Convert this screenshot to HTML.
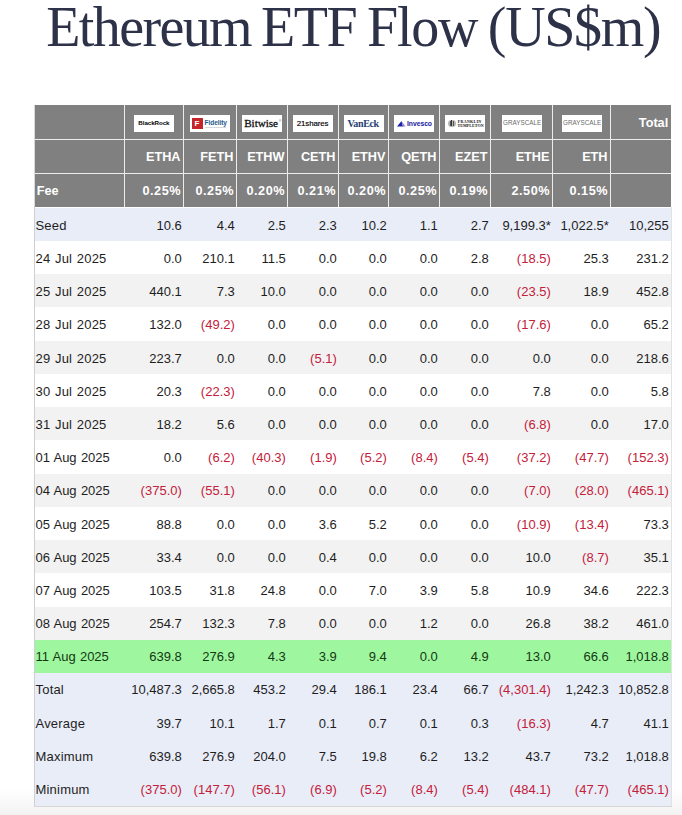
<!DOCTYPE html><html><head><meta charset="utf-8"><style>
html,body{margin:0;padding:0;background:#fff;}
body{width:682px;height:815px;overflow:hidden;position:relative;font-family:"Liberation Sans",sans-serif;}
.t{position:absolute;white-space:nowrap;line-height:1;}
.r{position:absolute;}
.c{position:absolute;white-space:nowrap;text-align:right;line-height:20px;height:20px;font-size:13px;color:#1e1e1e;}
.neg{color:#c4203a;}
.h{position:absolute;white-space:nowrap;text-align:right;line-height:20px;height:20px;font-size:12.7px;font-weight:bold;color:#fff;}
.logo{position:absolute;background:#fff;width:40px;height:17px;overflow:hidden;}
</style></head><body>
<div class="t" style="left:46.20px;top:-1.00px;font-family:'Liberation Serif',serif;font-size:56px;line-height:56px;height:56px;color:#2d3249;letter-spacing:-1.600px">Ethereum</div>
<div class="t" style="left:260.90px;top:-1.00px;font-family:'Liberation Serif',serif;font-size:56px;line-height:56px;height:56px;color:#2d3249;letter-spacing:-1.400px">ETF</div>
<div class="t" style="left:367.00px;top:-1.00px;font-family:'Liberation Serif',serif;font-size:56px;line-height:56px;height:56px;color:#2d3249;letter-spacing:-1.233px">Flow</div>
<div class="t" style="left:487.80px;top:-1.00px;font-family:'Liberation Serif',serif;font-size:56px;line-height:56px;height:56px;color:#2d3249;letter-spacing:-1.320px">(US$m)</div>
<div class="r" style="left:0;top:790px;width:682px;height:25px;background:linear-gradient(#fff,#f2f2f2)"></div>
<div class="r" style="left:34px;top:104.5px;width:637px;height:102.5px;background:#808080"></div>
<div class="r" style="left:34px;top:139px;width:637px;height:1px;background:#ececec"></div>
<div class="r" style="left:34px;top:173px;width:637px;height:1px;background:#ececec"></div>
<div class="r" style="left:124px;top:104.5px;width:1px;height:102.5px;background:#ececec"></div>
<div class="r" style="left:183px;top:104.5px;width:1px;height:102.5px;background:#ececec"></div>
<div class="r" style="left:236px;top:104.5px;width:1px;height:102.5px;background:#ececec"></div>
<div class="r" style="left:287px;top:104.5px;width:1px;height:102.5px;background:#ececec"></div>
<div class="r" style="left:338px;top:104.5px;width:1px;height:102.5px;background:#ececec"></div>
<div class="r" style="left:388px;top:104.5px;width:1px;height:102.5px;background:#ececec"></div>
<div class="r" style="left:439px;top:104.5px;width:1px;height:102.5px;background:#ececec"></div>
<div class="r" style="left:490px;top:104.5px;width:1px;height:102.5px;background:#ececec"></div>
<div class="r" style="left:552px;top:104.5px;width:1px;height:102.5px;background:#ececec"></div>
<div class="r" style="left:610px;top:104.5px;width:1px;height:102.5px;background:#ececec"></div>
<div class="r" style="left:34px;top:104.5px;width:1px;height:102.5px;background:#d8d8d8"></div>
<div class="r" style="left:35px;top:207.50px;width:636px;height:33.26px;background:#e9edf8"></div>
<div class="r" style="left:35px;top:240.76px;width:636px;height:33.26px;background:#ffffff"></div>
<div class="r" style="left:35px;top:274.02px;width:636px;height:33.26px;background:#f2f2f2"></div>
<div class="r" style="left:35px;top:307.28px;width:636px;height:33.26px;background:#ffffff"></div>
<div class="r" style="left:35px;top:340.54px;width:636px;height:33.26px;background:#f2f2f2"></div>
<div class="r" style="left:35px;top:373.80px;width:636px;height:33.26px;background:#ffffff"></div>
<div class="r" style="left:35px;top:407.06px;width:636px;height:33.26px;background:#f2f2f2"></div>
<div class="r" style="left:35px;top:440.32px;width:636px;height:33.26px;background:#ffffff"></div>
<div class="r" style="left:35px;top:473.58px;width:636px;height:33.26px;background:#f2f2f2"></div>
<div class="r" style="left:35px;top:506.84px;width:636px;height:33.26px;background:#ffffff"></div>
<div class="r" style="left:35px;top:540.10px;width:636px;height:33.26px;background:#f2f2f2"></div>
<div class="r" style="left:35px;top:573.36px;width:636px;height:33.26px;background:#ffffff"></div>
<div class="r" style="left:35px;top:606.62px;width:636px;height:33.26px;background:#f2f2f2"></div>
<div class="r" style="left:35px;top:639.88px;width:636px;height:33.26px;background:#9ef79e"></div>
<div class="r" style="left:35px;top:673.14px;width:636px;height:33.26px;background:#e9edf8"></div>
<div class="r" style="left:35px;top:706.40px;width:636px;height:33.26px;background:#e9edf8"></div>
<div class="r" style="left:35px;top:739.66px;width:636px;height:33.26px;background:#e9edf8"></div>
<div class="r" style="left:35px;top:772.92px;width:636px;height:33.26px;background:#e9edf8"></div>
<div class="r" style="left:34px;top:806.18px;width:638px;height:1px;background:#d6d6d6"></div>
<div class="r" style="left:34px;top:207px;width:1px;height:599.18px;background:#cfcfcf"></div>
<div class="r" style="left:671px;top:207px;width:1px;height:599.18px;background:#e2e2e2"></div>
<div class="h" style="right:13.80px;top:113.10px;letter-spacing:0px">Total</div>
<div class="h" style="right:501.50px;top:146.70px;letter-spacing:0px">ETHA</div>
<div class="h" style="right:448.50px;top:146.70px;letter-spacing:0px">FETH</div>
<div class="h" style="right:397.50px;top:146.70px;letter-spacing:0px">ETHW</div>
<div class="h" style="right:346.50px;top:146.70px;letter-spacing:0px">CETH</div>
<div class="h" style="right:296.50px;top:146.70px;letter-spacing:0px">ETHV</div>
<div class="h" style="right:245.50px;top:146.70px;letter-spacing:0px">QETH</div>
<div class="h" style="right:194.50px;top:146.70px;letter-spacing:0px">EZET</div>
<div class="h" style="right:132.50px;top:146.70px;letter-spacing:0px">ETHE</div>
<div class="h" style="right:74.50px;top:146.70px;letter-spacing:0px">ETH</div>
<div class="h" style="left:36.70px;top:180.80px;text-align:left">Fee</div>
<div class="h" style="right:501.00px;top:180.80px;letter-spacing:0.5px">0.25%</div>
<div class="h" style="right:448.00px;top:180.80px;letter-spacing:0.5px">0.25%</div>
<div class="h" style="right:397.00px;top:180.80px;letter-spacing:0.5px">0.20%</div>
<div class="h" style="right:346.00px;top:180.80px;letter-spacing:0.5px">0.21%</div>
<div class="h" style="right:296.00px;top:180.80px;letter-spacing:0.5px">0.20%</div>
<div class="h" style="right:245.00px;top:180.80px;letter-spacing:0.5px">0.25%</div>
<div class="h" style="right:194.00px;top:180.80px;letter-spacing:0.5px">0.19%</div>
<div class="h" style="right:132.00px;top:180.80px;letter-spacing:0.5px">2.50%</div>
<div class="h" style="right:74.00px;top:180.80px;letter-spacing:0.5px">0.15%</div>
<div class="c" style="left:35.50px;top:215.90px;text-align:left;letter-spacing:0.2px;word-spacing:0.8px;">Seed</div>
<div class="c" style="right:500.20px;top:215.90px;">10.6</div>
<div class="c" style="right:447.20px;top:215.90px;">4.4</div>
<div class="c" style="right:396.20px;top:215.90px;">2.5</div>
<div class="c" style="right:345.20px;top:215.90px;">2.3</div>
<div class="c" style="right:295.20px;top:215.90px;">10.2</div>
<div class="c" style="right:244.20px;top:215.90px;">1.1</div>
<div class="c" style="right:193.20px;top:215.90px;">2.7</div>
<div class="c" style="right:131.20px;top:215.90px;">9,199.3*</div>
<div class="c" style="right:73.20px;top:215.90px;">1,022.5*</div>
<div class="c" style="right:13.20px;top:215.90px;">10,255</div>
<div class="c" style="left:35.50px;top:249.09px;text-align:left;letter-spacing:0.2px;word-spacing:0.8px;">24 Jul 2025</div>
<div class="c" style="right:500.20px;top:249.09px;">0.0</div>
<div class="c" style="right:447.20px;top:249.09px;">210.1</div>
<div class="c" style="right:396.20px;top:249.09px;">11.5</div>
<div class="c" style="right:345.20px;top:249.09px;">0.0</div>
<div class="c" style="right:295.20px;top:249.09px;">0.0</div>
<div class="c" style="right:244.20px;top:249.09px;">0.0</div>
<div class="c" style="right:193.20px;top:249.09px;">2.8</div>
<div class="c neg" style="right:131.20px;top:249.09px;">(18.5)</div>
<div class="c" style="right:73.20px;top:249.09px;">25.3</div>
<div class="c" style="right:13.20px;top:249.09px;">231.2</div>
<div class="c" style="left:35.50px;top:282.28px;text-align:left;letter-spacing:0.2px;word-spacing:0.8px;">25 Jul 2025</div>
<div class="c" style="right:500.20px;top:282.28px;">440.1</div>
<div class="c" style="right:447.20px;top:282.28px;">7.3</div>
<div class="c" style="right:396.20px;top:282.28px;">10.0</div>
<div class="c" style="right:345.20px;top:282.28px;">0.0</div>
<div class="c" style="right:295.20px;top:282.28px;">0.0</div>
<div class="c" style="right:244.20px;top:282.28px;">0.0</div>
<div class="c" style="right:193.20px;top:282.28px;">0.0</div>
<div class="c neg" style="right:131.20px;top:282.28px;">(23.5)</div>
<div class="c" style="right:73.20px;top:282.28px;">18.9</div>
<div class="c" style="right:13.20px;top:282.28px;">452.8</div>
<div class="c" style="left:35.50px;top:315.47px;text-align:left;letter-spacing:0.2px;word-spacing:0.8px;">28 Jul 2025</div>
<div class="c" style="right:500.20px;top:315.47px;">132.0</div>
<div class="c neg" style="right:447.20px;top:315.47px;">(49.2)</div>
<div class="c" style="right:396.20px;top:315.47px;">0.0</div>
<div class="c" style="right:345.20px;top:315.47px;">0.0</div>
<div class="c" style="right:295.20px;top:315.47px;">0.0</div>
<div class="c" style="right:244.20px;top:315.47px;">0.0</div>
<div class="c" style="right:193.20px;top:315.47px;">0.0</div>
<div class="c neg" style="right:131.20px;top:315.47px;">(17.6)</div>
<div class="c" style="right:73.20px;top:315.47px;">0.0</div>
<div class="c" style="right:13.20px;top:315.47px;">65.2</div>
<div class="c" style="left:35.50px;top:348.66px;text-align:left;letter-spacing:0.2px;word-spacing:0.8px;">29 Jul 2025</div>
<div class="c" style="right:500.20px;top:348.66px;">223.7</div>
<div class="c" style="right:447.20px;top:348.66px;">0.0</div>
<div class="c" style="right:396.20px;top:348.66px;">0.0</div>
<div class="c neg" style="right:345.20px;top:348.66px;">(5.1)</div>
<div class="c" style="right:295.20px;top:348.66px;">0.0</div>
<div class="c" style="right:244.20px;top:348.66px;">0.0</div>
<div class="c" style="right:193.20px;top:348.66px;">0.0</div>
<div class="c" style="right:131.20px;top:348.66px;">0.0</div>
<div class="c" style="right:73.20px;top:348.66px;">0.0</div>
<div class="c" style="right:13.20px;top:348.66px;">218.6</div>
<div class="c" style="left:35.50px;top:381.85px;text-align:left;letter-spacing:0.2px;word-spacing:0.8px;">30 Jul 2025</div>
<div class="c" style="right:500.20px;top:381.85px;">20.3</div>
<div class="c neg" style="right:447.20px;top:381.85px;">(22.3)</div>
<div class="c" style="right:396.20px;top:381.85px;">0.0</div>
<div class="c" style="right:345.20px;top:381.85px;">0.0</div>
<div class="c" style="right:295.20px;top:381.85px;">0.0</div>
<div class="c" style="right:244.20px;top:381.85px;">0.0</div>
<div class="c" style="right:193.20px;top:381.85px;">0.0</div>
<div class="c" style="right:131.20px;top:381.85px;">7.8</div>
<div class="c" style="right:73.20px;top:381.85px;">0.0</div>
<div class="c" style="right:13.20px;top:381.85px;">5.8</div>
<div class="c" style="left:35.50px;top:415.04px;text-align:left;letter-spacing:0.2px;word-spacing:0.8px;">31 Jul 2025</div>
<div class="c" style="right:500.20px;top:415.04px;">18.2</div>
<div class="c" style="right:447.20px;top:415.04px;">5.6</div>
<div class="c" style="right:396.20px;top:415.04px;">0.0</div>
<div class="c" style="right:345.20px;top:415.04px;">0.0</div>
<div class="c" style="right:295.20px;top:415.04px;">0.0</div>
<div class="c" style="right:244.20px;top:415.04px;">0.0</div>
<div class="c" style="right:193.20px;top:415.04px;">0.0</div>
<div class="c neg" style="right:131.20px;top:415.04px;">(6.8)</div>
<div class="c" style="right:73.20px;top:415.04px;">0.0</div>
<div class="c" style="right:13.20px;top:415.04px;">17.0</div>
<div class="c" style="left:35.50px;top:448.23px;text-align:left;letter-spacing:-0.04px;word-spacing:0.8px;">01 Aug 2025</div>
<div class="c" style="right:500.20px;top:448.23px;">0.0</div>
<div class="c neg" style="right:447.20px;top:448.23px;">(6.2)</div>
<div class="c neg" style="right:396.20px;top:448.23px;">(40.3)</div>
<div class="c neg" style="right:345.20px;top:448.23px;">(1.9)</div>
<div class="c neg" style="right:295.20px;top:448.23px;">(5.2)</div>
<div class="c neg" style="right:244.20px;top:448.23px;">(8.4)</div>
<div class="c neg" style="right:193.20px;top:448.23px;">(5.4)</div>
<div class="c neg" style="right:131.20px;top:448.23px;">(37.2)</div>
<div class="c neg" style="right:73.20px;top:448.23px;">(47.7)</div>
<div class="c neg" style="right:13.20px;top:448.23px;">(152.3)</div>
<div class="c" style="left:35.50px;top:481.42px;text-align:left;letter-spacing:-0.04px;word-spacing:0.8px;">04 Aug 2025</div>
<div class="c neg" style="right:500.20px;top:481.42px;">(375.0)</div>
<div class="c neg" style="right:447.20px;top:481.42px;">(55.1)</div>
<div class="c" style="right:396.20px;top:481.42px;">0.0</div>
<div class="c" style="right:345.20px;top:481.42px;">0.0</div>
<div class="c" style="right:295.20px;top:481.42px;">0.0</div>
<div class="c" style="right:244.20px;top:481.42px;">0.0</div>
<div class="c" style="right:193.20px;top:481.42px;">0.0</div>
<div class="c neg" style="right:131.20px;top:481.42px;">(7.0)</div>
<div class="c neg" style="right:73.20px;top:481.42px;">(28.0)</div>
<div class="c neg" style="right:13.20px;top:481.42px;">(465.1)</div>
<div class="c" style="left:35.50px;top:514.61px;text-align:left;letter-spacing:-0.04px;word-spacing:0.8px;">05 Aug 2025</div>
<div class="c" style="right:500.20px;top:514.61px;">88.8</div>
<div class="c" style="right:447.20px;top:514.61px;">0.0</div>
<div class="c" style="right:396.20px;top:514.61px;">0.0</div>
<div class="c" style="right:345.20px;top:514.61px;">3.6</div>
<div class="c" style="right:295.20px;top:514.61px;">5.2</div>
<div class="c" style="right:244.20px;top:514.61px;">0.0</div>
<div class="c" style="right:193.20px;top:514.61px;">0.0</div>
<div class="c neg" style="right:131.20px;top:514.61px;">(10.9)</div>
<div class="c neg" style="right:73.20px;top:514.61px;">(13.4)</div>
<div class="c" style="right:13.20px;top:514.61px;">73.3</div>
<div class="c" style="left:35.50px;top:547.80px;text-align:left;letter-spacing:-0.04px;word-spacing:0.8px;">06 Aug 2025</div>
<div class="c" style="right:500.20px;top:547.80px;">33.4</div>
<div class="c" style="right:447.20px;top:547.80px;">0.0</div>
<div class="c" style="right:396.20px;top:547.80px;">0.0</div>
<div class="c" style="right:345.20px;top:547.80px;">0.4</div>
<div class="c" style="right:295.20px;top:547.80px;">0.0</div>
<div class="c" style="right:244.20px;top:547.80px;">0.0</div>
<div class="c" style="right:193.20px;top:547.80px;">0.0</div>
<div class="c" style="right:131.20px;top:547.80px;">10.0</div>
<div class="c neg" style="right:73.20px;top:547.80px;">(8.7)</div>
<div class="c" style="right:13.20px;top:547.80px;">35.1</div>
<div class="c" style="left:35.50px;top:580.99px;text-align:left;letter-spacing:-0.04px;word-spacing:0.8px;">07 Aug 2025</div>
<div class="c" style="right:500.20px;top:580.99px;">103.5</div>
<div class="c" style="right:447.20px;top:580.99px;">31.8</div>
<div class="c" style="right:396.20px;top:580.99px;">24.8</div>
<div class="c" style="right:345.20px;top:580.99px;">0.0</div>
<div class="c" style="right:295.20px;top:580.99px;">7.0</div>
<div class="c" style="right:244.20px;top:580.99px;">3.9</div>
<div class="c" style="right:193.20px;top:580.99px;">5.8</div>
<div class="c" style="right:131.20px;top:580.99px;">10.9</div>
<div class="c" style="right:73.20px;top:580.99px;">34.6</div>
<div class="c" style="right:13.20px;top:580.99px;">222.3</div>
<div class="c" style="left:35.50px;top:614.18px;text-align:left;letter-spacing:-0.04px;word-spacing:0.8px;">08 Aug 2025</div>
<div class="c" style="right:500.20px;top:614.18px;">254.7</div>
<div class="c" style="right:447.20px;top:614.18px;">132.3</div>
<div class="c" style="right:396.20px;top:614.18px;">7.8</div>
<div class="c" style="right:345.20px;top:614.18px;">0.0</div>
<div class="c" style="right:295.20px;top:614.18px;">0.0</div>
<div class="c" style="right:244.20px;top:614.18px;">1.2</div>
<div class="c" style="right:193.20px;top:614.18px;">0.0</div>
<div class="c" style="right:131.20px;top:614.18px;">26.8</div>
<div class="c" style="right:73.20px;top:614.18px;">38.2</div>
<div class="c" style="right:13.20px;top:614.18px;">461.0</div>
<div class="c" style="left:35.50px;top:647.37px;text-align:left;color:#143814;letter-spacing:-0.04px;word-spacing:0.8px;">11 Aug 2025</div>
<div class="c" style="right:500.20px;top:647.37px;color:#143814;">639.8</div>
<div class="c" style="right:447.20px;top:647.37px;color:#143814;">276.9</div>
<div class="c" style="right:396.20px;top:647.37px;color:#143814;">4.3</div>
<div class="c" style="right:345.20px;top:647.37px;color:#143814;">3.9</div>
<div class="c" style="right:295.20px;top:647.37px;color:#143814;">9.4</div>
<div class="c" style="right:244.20px;top:647.37px;color:#143814;">0.0</div>
<div class="c" style="right:193.20px;top:647.37px;color:#143814;">4.9</div>
<div class="c" style="right:131.20px;top:647.37px;color:#143814;">13.0</div>
<div class="c" style="right:73.20px;top:647.37px;color:#143814;">66.6</div>
<div class="c" style="right:13.20px;top:647.37px;color:#143814;">1,018.8</div>
<div class="c" style="left:35.50px;top:679.56px;text-align:left;letter-spacing:0.2px;word-spacing:0.8px;">Total</div>
<div class="c" style="right:500.20px;top:679.56px;">10,487.3</div>
<div class="c" style="right:447.20px;top:679.56px;">2,665.8</div>
<div class="c" style="right:396.20px;top:679.56px;">453.2</div>
<div class="c" style="right:345.20px;top:679.56px;">29.4</div>
<div class="c" style="right:295.20px;top:679.56px;">186.1</div>
<div class="c" style="right:244.20px;top:679.56px;">23.4</div>
<div class="c" style="right:193.20px;top:679.56px;">66.7</div>
<div class="c neg" style="right:131.20px;top:679.56px;">(4,301.4)</div>
<div class="c" style="right:73.20px;top:679.56px;">1,242.3</div>
<div class="c" style="right:13.20px;top:679.56px;">10,852.8</div>
<div class="c" style="left:35.50px;top:713.75px;text-align:left;letter-spacing:0.2px;word-spacing:0.8px;">Average</div>
<div class="c" style="right:500.20px;top:713.75px;">39.7</div>
<div class="c" style="right:447.20px;top:713.75px;">10.1</div>
<div class="c" style="right:396.20px;top:713.75px;">1.7</div>
<div class="c" style="right:345.20px;top:713.75px;">0.1</div>
<div class="c" style="right:295.20px;top:713.75px;">0.7</div>
<div class="c" style="right:244.20px;top:713.75px;">0.1</div>
<div class="c" style="right:193.20px;top:713.75px;">0.3</div>
<div class="c neg" style="right:131.20px;top:713.75px;">(16.3)</div>
<div class="c" style="right:73.20px;top:713.75px;">4.7</div>
<div class="c" style="right:13.20px;top:713.75px;">41.1</div>
<div class="c" style="left:35.50px;top:746.94px;text-align:left;letter-spacing:0.2px;word-spacing:0.8px;">Maximum</div>
<div class="c" style="right:500.20px;top:746.94px;">639.8</div>
<div class="c" style="right:447.20px;top:746.94px;">276.9</div>
<div class="c" style="right:396.20px;top:746.94px;">204.0</div>
<div class="c" style="right:345.20px;top:746.94px;">7.5</div>
<div class="c" style="right:295.20px;top:746.94px;">19.8</div>
<div class="c" style="right:244.20px;top:746.94px;">6.2</div>
<div class="c" style="right:193.20px;top:746.94px;">13.2</div>
<div class="c" style="right:131.20px;top:746.94px;">43.7</div>
<div class="c" style="right:73.20px;top:746.94px;">73.2</div>
<div class="c" style="right:13.20px;top:746.94px;">1,018.8</div>
<div class="c" style="left:35.50px;top:780.13px;text-align:left;letter-spacing:0.2px;word-spacing:0.8px;">Minimum</div>
<div class="c neg" style="right:500.20px;top:780.13px;">(375.0)</div>
<div class="c neg" style="right:447.20px;top:780.13px;">(147.7)</div>
<div class="c neg" style="right:396.20px;top:780.13px;">(56.1)</div>
<div class="c neg" style="right:345.20px;top:780.13px;">(6.9)</div>
<div class="c neg" style="right:295.20px;top:780.13px;">(5.2)</div>
<div class="c neg" style="right:244.20px;top:780.13px;">(8.4)</div>
<div class="c neg" style="right:193.20px;top:780.13px;">(5.4)</div>
<div class="c neg" style="right:131.20px;top:780.13px;">(484.1)</div>
<div class="c neg" style="right:73.20px;top:780.13px;">(47.7)</div>
<div class="c neg" style="right:13.20px;top:780.13px;">(465.1)</div>
<div class="logo" style="left:134px;top:115px"><div class="t" style="left:4.3px;top:5.2px;font-size:6.2px;font-weight:bold;color:#000;letter-spacing:-0.05px">BlackRock</div></div>
<div class="logo" style="left:190px;top:115px"><div class="r" style="left:2px;top:3px;width:10.5px;height:10.5px;background:#c3262a"></div><div class="t" style="left:4.4px;top:4.8px;font-size:8px;font-weight:bold;color:#fff">F</div><div class="t" style="left:14.6px;top:5.2px;font-size:6.6px;font-weight:bold;color:#1f5a8e;letter-spacing:-0.1px">Fidelity</div><div class="r" style="left:15px;top:12px;width:21px;height:1px;background:#d4dae0"></div></div>
<div class="logo" style="left:242px;top:115px"><div class="t" style="left:2.2px;top:3.1px;font-family:'Liberation Serif',serif;font-size:11.2px;font-weight:normal;color:#111;letter-spacing:-0.05px;-webkit-text-stroke:0.3px #111">Bitwise</div><div class="t" style="left:37px;top:5px;font-size:3px;color:#333">&#174;</div></div>
<div class="logo" style="left:293px;top:115px"><div class="t" style="left:3.8px;top:5.0px;font-size:7.9px;color:#000;letter-spacing:-0.1px;font-weight:normal;-webkit-text-stroke:0.15px #000">21shares</div></div>
<div class="logo" style="left:344px;top:115px"><div class="t" style="left:3.4px;top:4.0px;font-family:'Liberation Serif',serif;font-size:10px;font-weight:bold;color:#243f74;letter-spacing:-0.35px">VanEck</div></div>
<div class="logo" style="left:394px;top:115px"><svg class="r" style="left:1.5px;top:4.5px" width="10" height="8" viewBox="0 0 10 8"><path d="M1 6.5 L5.5 1 L7 6.5 Z" fill="#1e22a8"/><path d="M5.5 1 L9.5 6.5 L7 6.5 Z" fill="#8a8cd0"/></svg><div class="t" style="left:13px;top:5.9px;font-size:6.8px;font-weight:bold;color:#2020a0;letter-spacing:-0.05px">Invesco</div></div>
<div class="logo" style="left:445px;top:115px"><div class="r" style="left:3px;top:4.5px;width:7.5px;height:7.5px;border-radius:50%;background:#b8b8b8"></div><div class="r" style="left:4.6px;top:5.6px;width:1.2px;height:5px;background:#555"></div><div class="r" style="left:6.2px;top:5.2px;width:1.2px;height:6px;background:#333"></div><div class="r" style="left:7.8px;top:5.6px;width:1.2px;height:5px;background:#555"></div><div class="t" style="left:12.8px;top:5.2px;font-family:'Liberation Serif',serif;font-size:4px;font-weight:bold;color:#111;letter-spacing:0.3px">FRANKLIN</div><div class="t" style="left:12.5px;top:9.1px;font-family:'Liberation Serif',serif;font-size:4px;font-weight:bold;color:#111;letter-spacing:0.08px">TEMPLETON</div></div>
<div class="logo" style="left:502px;top:115px"><div class="t" style="left:1px;top:4.3px;font-size:8px;color:#6a6a6a;transform-origin:0 0;transform:scaleX(0.79)">GRAYSCALE</div></div>
<div class="logo" style="left:562px;top:115px"><div class="t" style="left:1px;top:4.3px;font-size:8px;color:#6a6a6a;transform-origin:0 0;transform:scaleX(0.79)">GRAYSCALE</div></div>

</body></html>
